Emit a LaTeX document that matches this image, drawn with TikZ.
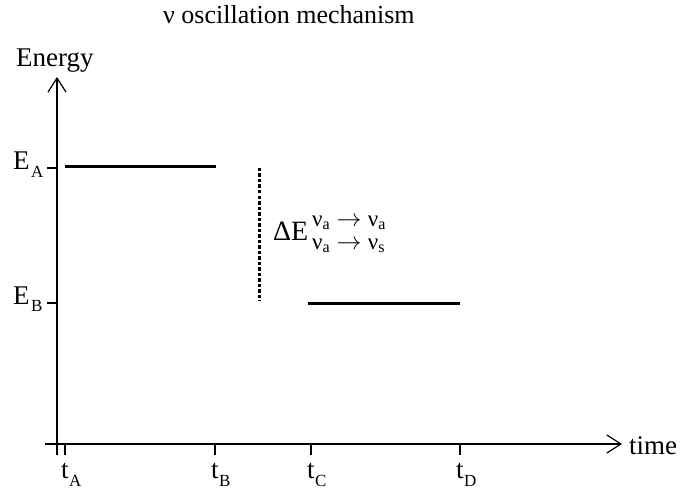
\documentclass[tikz,border=0pt]{standalone}
\usepackage{fontspec}
\setmainfont{Liberation Serif}
\usetikzlibrary{arrows.meta}
\tikzset{
  axis/.style={line width=1.4pt},
  level/.style={line width=3pt},
  tickmark/.style={line width=1.2pt},
  lbl/.style={inner sep=0pt, anchor=base west, font=\fontsize{27}{30}\selectfont},
  sub/.style={inner sep=0pt, anchor=base west, font=\fontsize{17}{19}\selectfont},
  supl/.style={inner sep=0pt, anchor=base west, text height=11pt, text depth=4pt, font=\fontsize{23}{25}\selectfont},
  barb/.style={-{Straight Barb[length=14pt,width=18pt,line width=1.2pt]}},
}
\begin{document}
\begin{tikzpicture}[x=1pt,y=-1pt]
\useasboundingbox (0,0) rectangle (683,492);
% title
\node[lbl, font=\fontsize{26}{30}\selectfont] (title) at (163,24) {ν oscillation mechanism};
\node[lbl] (energy) at (16,67) {Energy};
% axes
\coordinate (yb) at (57,455);
\coordinate (yt) at (57,77);
\coordinate (xl) at (45,444);
\coordinate (xr) at (622,444);
\draw[axis,barb] (yb) -- (yt);
\draw[axis,barb] (xl) -- (xr);
\node[lbl] (time) at (629,454) {time};
% y ticks
\coordinate (ea) at (57,168);
\coordinate (eb) at (57,303);
\draw[tickmark] (ea) -- ++(-10,0);
\draw[tickmark] (eb) -- ++(-10,0);
\node[lbl] (EA) at (13,170) {E};
\node[sub] (EAs) at (31,178) {A};
\node[lbl] (EB) at (13,304) {E};
\node[sub] (EBs) at (31,311) {B};
% x ticks
\foreach \n/\x/\s in {A/65/A,B/215/B,C/311/C,D/460/D}{
  \coordinate (t\n) at (\x,444);
  \draw[tickmark] (t\n) -- ++(0,11);
  \node[lbl] (lt\n) at (\x-4,478) {t};
  \node[sub] (ls\n) at (\x+4,486) {\s};
}
% energy levels
\coordinate (a1) at (65,167);
\coordinate (a2) at (216,167);
\coordinate (b1) at (308,303);
\coordinate (b2) at (460,303);
\draw[level] (a1) -- (a2);
\draw[level] (b1) -- (b2);
% dashed
\coordinate (d1) at (259,168);
\coordinate (d2) at (259,301);
\draw[line width=3pt, dash pattern=on 3.5pt off 2pt] (d1) -- (d2);
% Delta E
\node[lbl, font=\fontsize{28}{30}\selectfont] (dE) at (273,240) {ΔE};
\node[supl] (r1) at (312,226) {ν\textsubscript{a}\;$\rightarrow$\;ν\textsubscript{a}};
\node[supl] (r2) at (312,249) {ν\textsubscript{a}\;$\rightarrow$\;ν\textsubscript{s}};
\end{tikzpicture}
\end{document}
